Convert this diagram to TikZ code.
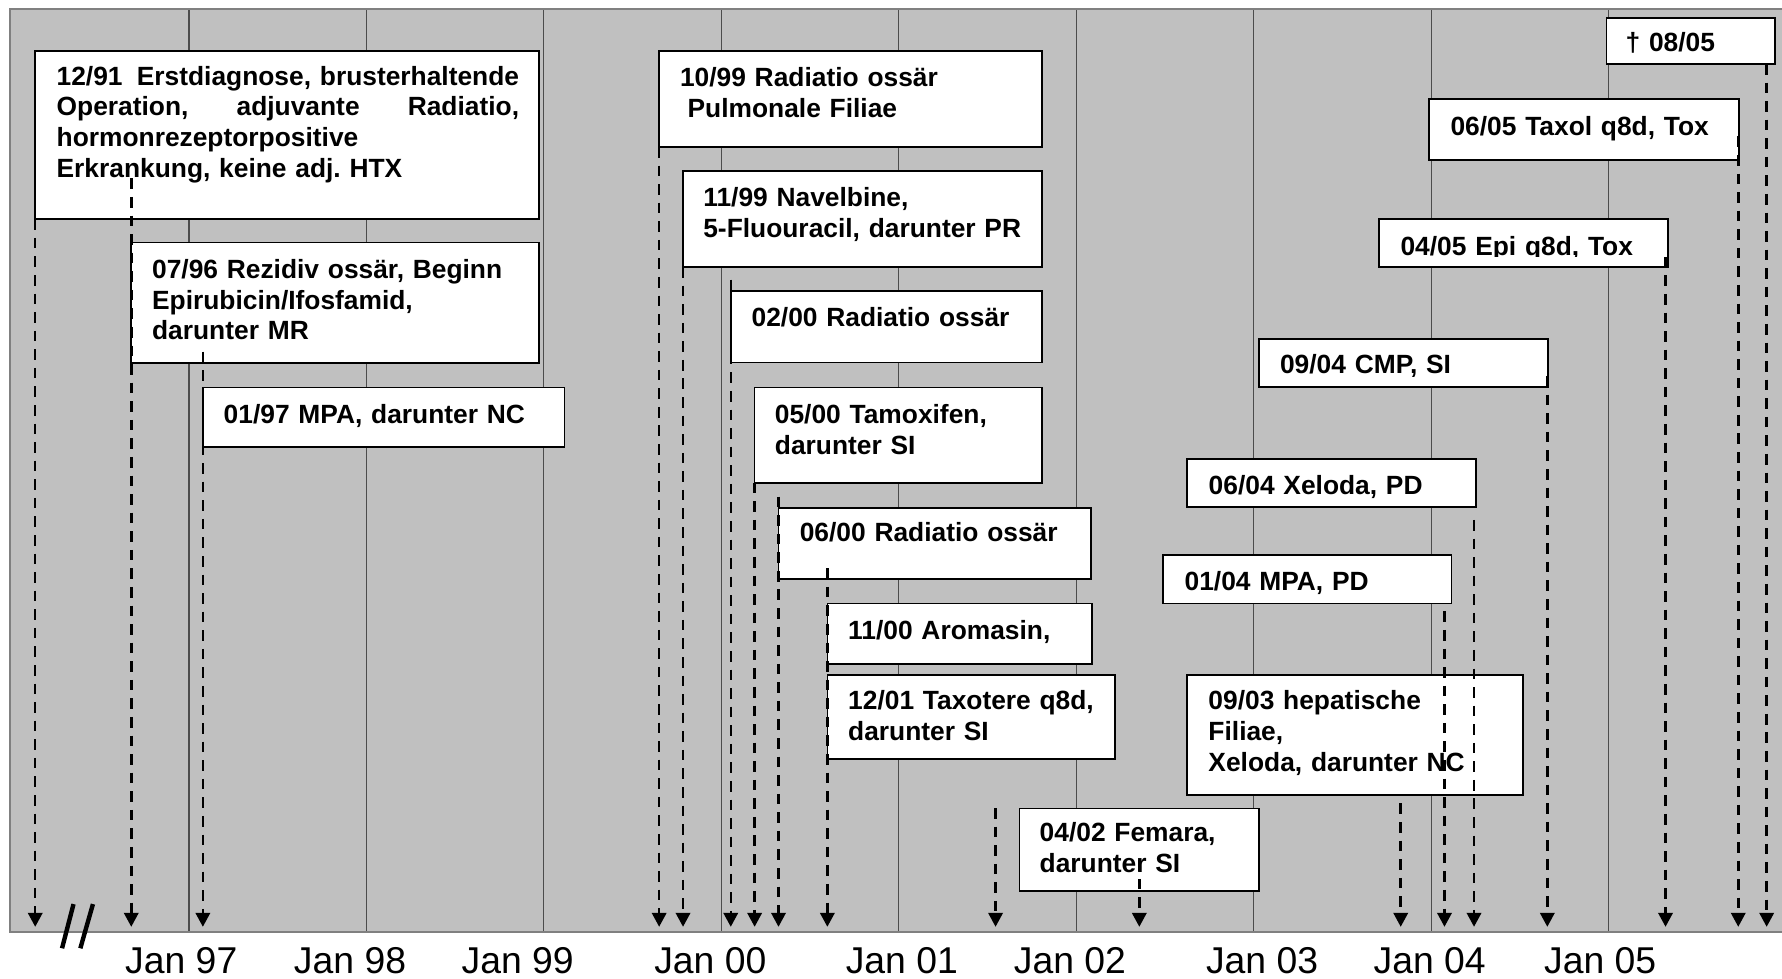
\documentclass[tikz,border=0pt]{standalone}
\usepackage{fontspec}
\setmainfont{Liberation Sans}
\usetikzlibrary{arrows.meta,fit}
\definecolor{plotgray}{RGB}{192,192,192}
\definecolor{framegray}{RGB}{128,128,128}
\newcommand{\evfont}{\fontsize{13.2pt}{15.4pt}\selectfont\bfseries}
\frenchspacing

\begin{document}
\begin{tikzpicture}[x=0.02cm, y=-0.02cm,
	evbox/.style={draw, fill=white, line width=0.85pt, inner sep=0pt, outer sep=0pt},
	evtext/.style={anchor=base west, inner sep=0pt, align=left, text width=8.5cm, font=\evfont},
	evline/.style={line width=1.25pt, dash pattern=on 5.3pt off 4pt, -{Triangle[length=7pt, width=7.2pt]}},
	yearlabel/.style={anchor=base, inner sep=0pt, font=\fontsize{18.7pt}{22pt}\selectfont}]
	\useasboundingbox (0,0) rectangle (1568,861);
	% plot area
	\fill[plotgray] (9,8) rectangle (1568,820);
	\foreach \k in {0,...,8}
		\draw[black!70, line width=0.55pt] (166.3+156.15*\k,8) -- (166.3+156.15*\k,820);
	\draw[framegray, line width=1.2pt] (1568,8) -- (9,8) -- (9,820) -- (1568,820);
	\coordinate (axis) at (0,815.5);
	% years
	\foreach \xx/\yy in {159.5/97, 308/98, 455.5/99, 625/00, 793.5/01, 941.5/02, 1110.5/03, 1258/04, 1408/05}
		\node[yearlabel] (jan\yy) at (\xx,856.4) {Jan \yy};
	\draw[line width=2.2pt] (54.6,834.4) -- (64.7,795.5) (70.7,834.4) -- (81.8,795.5);
	% boxes
	\node[evbox, fit={(31,45) (474.5,193)}] (erst) {};
	\node[evtext, text width=8.14cm] (erstt) at (49.5,75)
		{\makebox[\linewidth]{12/91\hfill Erstdiagnose, brusterhaltende}\\
		\makebox[\linewidth]{Operation,\hfill adjuvante\hfill Radiatio,}\\
		hormonrezeptorpositive\\ Erkrankung, keine adj. HTX};
	\node[evbox, fit={(115.5,213.5) (474.5,319.5)}] (rez) {};
	\node[evtext] (rezt) at (133.5,245) {07/96 Rezidiv ossär, Beginn\\ Epirubicin/Ifosfamid,\\ darunter MR};
	\node[evbox, fit={(178.5,341) (496.7,393.5)}] (mpa97) {};
	\node[evtext] (mpa97t) at (196.5,372.5) {01/97 MPA, darunter NC};
	\node[evbox, fit={(580,45) (917,129.3)}] (rad99) {};
	\node[evtext] (rad99t) at (598,76.3) {10/99 Radiatio ossär\\ \hspace*{0.29em}Pulmonale Filiae};
	\node[evbox, fit={(601,150.5) (917,235)}] (navel) {};
	\node[evtext] (navelt) at (618.5,182) {11/99 Navelbine,\\ 5-Fluouracil, darunter PR};
	\node[evbox, fit={(643,256) (917,319)}] (rad00a) {};
	\node[evtext] (rad00at) at (661,287.4) {02/00 Radiatio ossär};
	\node[evbox, fit={(664,341) (917,424.7)}] (tamox) {};
	\node[evtext] (tamoxt) at (681.5,372.5) {05/00 Tamoxifen,\\ darunter SI};
	\node[evbox, fit={(685,446.7) (960,509.5)}] (rad00b) {};
	\node[evtext] (rad00bt) at (703.4,476.6) {06/00 Radiatio ossär};
	\node[evbox, fit={(728,531) (961,584)}] (aroma) {};
	\node[evtext] (aromat) at (746,562.5) {11/00 Aromasin,};
	\node[evbox, fit={(728,594.2) (981,668)}] (taxot) {};
	\node[evtext] (taxott) at (746,624.7) {12/01 Taxotere q8d,\\ darunter SI};
	\node[evbox, fit={(897,711.3) (1108,783.7)}] (femara) {};
	\node[evtext] (femarat) at (914.5,740.6) {04/02 Femara,\\ darunter SI};
	\node[evbox, fit={(1044.6,594.2) (1340,699.5)}] (hepat) {};
	\node[evtext] (hepatt) at (1063,624.7) {09/03 hepatische\\ Filiae,\\ Xeloda, darunter NC};
	\node[evbox, fit={(1023.5,488.5) (1277.2,531)}] (mpa04) {};
	\node[evtext] (mpa04t) at (1042,520) {01/04 MPA, PD};
	\node[evbox, fit={(1044.3,404) (1298.6,446.4)}] (xelo04) {};
	\node[evtext] (xelo04t) at (1063.2,435.5) {06/04 Xeloda, PD};
	\node[evbox, fit={(1107.6,298.5) (1362,340.8)}] (cmp) {};
	\begin{scope}
		\clip (1107.6,298.5) rectangle (1362,331);
		\node[evtext] (cmpt) at (1126,329) {09/04 CMP, SI};
	\end{scope}
	\node[evbox, fit={(1213.5,192.7) (1467.7,235)}] (epi) {};
	\begin{scope}
		\clip (1213.5,192.7) rectangle (1467.7,226);
		\node[evtext] (epit) at (1232,224.4) {04/05 Epi q8d, Tox};
	\end{scope}
	\node[evbox, fit={(1257.6,87) (1530.4,141)}] (taxol) {};
	\node[evtext] (taxolt) at (1276,118.8) {06/05 Taxol q8d, Tox};
	\node[evbox, fit={(1413.5,16) (1562,56.3)}] (death) {};
	\node[evtext] (deatht) at (1430,45.5) {† 08/05};
	% dashed connectors to the time axis
	\coordinate (s9607) at (115.5,157);
	\coordinate (s9701) at (178.5,309.5);
	\coordinate (s0002) at (643,246);
	\coordinate (s0006) at (685,437);
	\coordinate (s0011) at (728,500);
	\coordinate (s0112) at (876,711);
	\coordinate (s0204) at (1002.5,757);
	\coordinate (s0309) at (1232.5,707);
	\coordinate (s0401) at (1271,538);
	\coordinate (s0406) at (1297,457.5);
	\coordinate (s0409) at (1361.5,331);
	\coordinate (s0504) at (1465.5,226);
	\coordinate (s0506) at (1529.5,120);
	\coordinate (s0508) at (1554.5,56.3);
	\foreach \s in {erst.south west, s9607, s9701, rad99.south west, navel.south west, s0002,
		tamox.south west, s0006, s0011, s0112, s0204, s0309, s0401, s0406, s0409, s0504, s0506, s0508}
		\draw[evline] (\s) -- (\s |- axis);
\end{tikzpicture}
\end{document}
